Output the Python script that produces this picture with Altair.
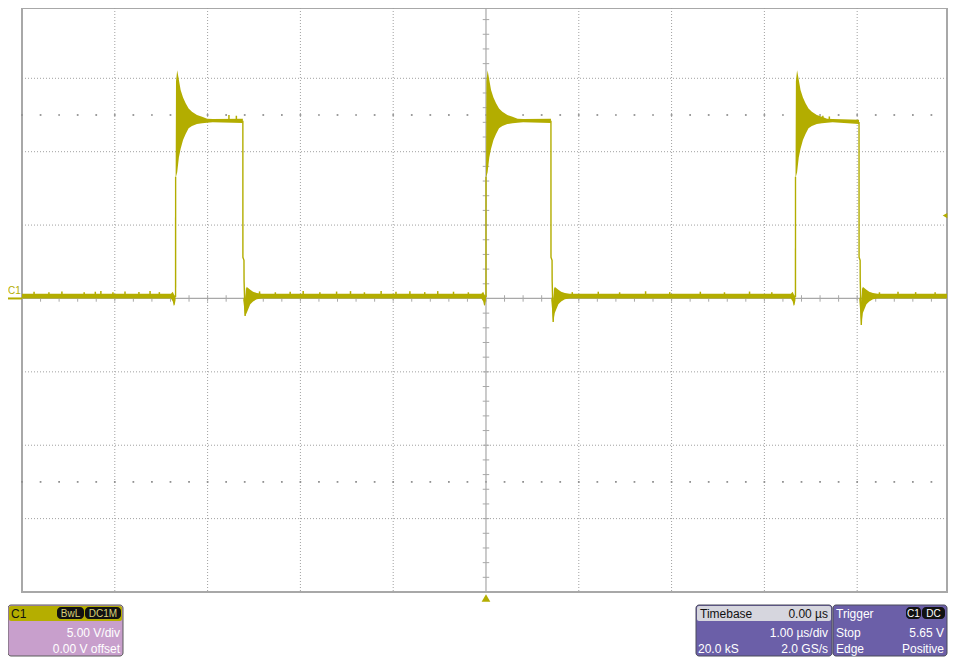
import altair as alt
import pandas as pd

# ---------------- data read from the screen ----------------
# time axis: 1 us/div, centre = 0 us ; volts: 5 V/div, centre = 0 V
rise_t = [-3.345, 0.000, 3.335]          # rising edges (us)
fall_t = [-2.620, 0.700, 4.020]          # falling edges (us)
top_hi = [12.25, 12.25, 12.18]           # flat top envelope (V)
top_lo = [11.95, 11.95, 11.88]
top_v = [12.1, 12.1, 12.03]
under_v = [-1.2, -1.6, -1.8]             # undershoot after fall (V)

# ringing envelope after each rising edge (relative time, us)
ring_dt = [0.000, 0.004, 0.017, 0.035, 0.054, 0.080, 0.108, 0.140, 0.176, 0.230, 0.285, 0.340, 0.400]
ring_hi = [8.3, 14.8, 15.55, 14.9, 14.2, 13.7, 13.3, 12.95, 12.72, 12.5, 12.38, 12.25, 12.22]
ring_lo = [8.3, 8.3, 8.6, 9.6, 10.2, 10.8, 11.2, 11.6, 11.75, 11.88, 11.93, 11.98, 12.0]

# small dip just before each rising edge
pre_dt = [-0.050, -0.030, -0.020, -0.010, 0.000]
pre_hi = [0.32, 0.45, 0.30, 0.20, 0.20]
pre_lo = [0.00, -0.20, -0.50, -0.45, -0.10]

# edge trace after each falling edge
fall_line_dt = [0.0005, 0.012, 0.013, 0.024, 0.040, 0.055, 0.075, 0.100, 0.140]
fall_line_v = [2.8, 2.6, 1.2, None, 0.7, -0.5, 0.4, -0.1, 0.15]
# ringing envelope after each falling edge
fall_env_dt = [0.024, 0.040, 0.060, 0.080, 0.110, 0.150, 0.200]
fall_env_hi = [-0.3, 0.8, 0.7, 0.6, 0.45, 0.38, 0.32]
fall_env_lo = [None, -1.0, -0.7, -0.4, -0.2, -0.05, 0.0]

base_hi, base_lo = 0.32, 0.0
t_start, t_end = -5.0, 4.968             # visible part of the 10 div screen

# noise spikes on the trace
spike_t = [-4.87, -4.71, -4.57, -4.33, -4.21, -4.15, -4.02, -3.89, -3.74, -3.62, -3.52,
           -2.44, -2.27, -2.11, -1.97, -1.79, -1.61, -1.46, -1.31, -1.13, -0.97, -0.82,
           -0.66, -0.52, -0.35, -0.19, 0.93, 1.21, 1.44, 1.72, 1.98, 2.31, 2.57, 2.84,
           3.08, 4.24, 4.44, 4.63, 4.84, -2.77, -2.69, 3.57, 3.63, 3.70]
spike_lo = [0.3] * 39 + [12.2, 12.2, 12.1, 12.1, 12.1]
spike_hi = [0.45, 0.42, 0.48, 0.43, 0.46, 0.5, 0.42, 0.47, 0.44, 0.5, 0.43,
            0.48, 0.42, 0.46, 0.5, 0.43, 0.47, 0.5, 0.42, 0.5, 0.46, 0.49,
            0.43, 0.5, 0.46, 0.42, 0.43, 0.46, 0.42, 0.49, 0.43, 0.46, 0.42, 0.47,
            0.43, 0.42, 0.46, 0.43, 0.42, 12.5, 12.45, 12.4, 12.45, 12.4]

grid_t = [-4, -3, -2, -1, 1, 2, 3, 4]
grid_v = [-15, -10, -5, 5, 10, 15]
dot_rows_v = [12.5, -12.5]
trig_level = 5.65

# ---------------- build tables ----------------
env = [(t_start, base_hi, base_lo)]
edges = []
for i in range(3):
    r, f = rise_t[i], fall_t[i]
    for d, h, l in zip(pre_dt, pre_hi, pre_lo):
        env.append((r + d, h, l))
    for d, h, l in zip(ring_dt, ring_hi, ring_lo):
        env.append((r + 0.0005 + d, h, l))
    env.append((f, top_hi[i], top_lo[i]))
    env.append((f + 0.0004, 0.1, 0.1))
    for d, h, l in zip(fall_env_dt, fall_env_hi, fall_env_lo):
        env.append((f + d, h, under_v[i] if l is None else l))
    edges.append((f"r{i}", 0, r, 0.1))
    edges.append((f"r{i}", 1, r + 0.0005, 8.3))
    edges.append((f"f{i}", 0, f, top_v[i]))
    for k, (d, v) in enumerate(zip(fall_line_dt, fall_line_v)):
        edges.append((f"f{i}", k + 1, f + d, under_v[i] if v is None else v))
env.append((t_end, base_hi, base_lo))

env_df = pd.DataFrame(env, columns=["t", "hi", "lo"])
edge_df = pd.DataFrame(edges, columns=["seg", "k", "t", "v"])
spike_df = pd.DataFrame({"t": spike_t, "lo": spike_lo, "hi": spike_hi})

minor_t = [round(-5 + 0.2 * k, 2) for k in range(50)]
minor_v = [float(v) for v in range(-20, 20)]
tick_x_df = pd.DataFrame({"t": minor_t})
tick_y_df = pd.DataFrame({"v": minor_v})
dots_df = pd.DataFrame([(t, v) for v in dot_rows_v for t in minor_t], columns=["t", "v"])

# ---------------- styling ----------------
TRACE = "#b3ad00"
GRID = "#a0a0a0"
AXIS = "#a8a8a8"
FONT = "Liberation Sans"
W, H = 925, 584
XS = alt.Scale(domain=[t_start, t_end], nice=False, zero=False)
YS = alt.Scale(domain=[-20, 19.79], nice=False, zero=False)


def X(f="t"):
    return alt.X(f"{f}:Q", scale=XS, axis=None)


def Y(f="v"):
    return alt.Y(f"{f}:Q", scale=YS, axis=None)


one = alt.Data(values=[{"a": 1}])

layers = []
# dotted grid
layers.append(alt.Chart(pd.DataFrame({"t": grid_t})).mark_rule(
    color=GRID, strokeDash=[1, 2], strokeWidth=1).encode(x=X()))
layers.append(alt.Chart(pd.DataFrame({"v": grid_v})).mark_rule(
    color=GRID, strokeDash=[1, 2], strokeWidth=1).encode(y=Y()))
# dot rows
layers.append(alt.Chart(dots_df).mark_square(size=3, color="#8c8c8c", opacity=1).encode(x=X(), y=Y()))
# centre cross with minor ticks
layers.append(alt.Chart(pd.DataFrame({"t": [0.0]})).mark_rule(color=AXIS, strokeWidth=1.2).encode(x=X()))
layers.append(alt.Chart(pd.DataFrame({"v": [0.0]})).mark_rule(color=AXIS, strokeWidth=1.2).encode(y=Y()))
layers.append(alt.Chart(tick_x_df).transform_calculate(a="-0.22", b="0.22").mark_rule(
    color=AXIS, strokeWidth=1).encode(x=X(), y=Y("a"), y2="b:Q"))
layers.append(alt.Chart(tick_y_df).transform_calculate(a="-0.035", b="0.035").mark_rule(
    color=AXIS, strokeWidth=1).encode(y=Y(), x=X("a"), x2="b:Q"))
# waveform envelope
layers.append(alt.Chart(env_df).mark_area(color=TRACE, opacity=1, interpolate="linear").encode(
    x=X(), y=Y("hi"), y2="lo:Q"))
# edges
layers.append(alt.Chart(edge_df).mark_line(color=TRACE, strokeWidth=1.4).encode(
    x=X(), y=Y(), detail="seg:N", order="k:Q"))
# spikes
layers.append(alt.Chart(spike_df).mark_rule(color=TRACE, strokeWidth=1.5).encode(
    x=X(), y=Y("lo"), y2="hi:Q"))
# channel marker on the left
layers.append(alt.Chart(pd.DataFrame({"v": [0.0]})).mark_rule(color=TRACE, strokeWidth=2).encode(
    x=alt.value(-14), x2=alt.value(0), y=Y()))
layers.append(alt.Chart(one).mark_text(text="C1", align="left", baseline="alphabetic", fontSize=10,
                                       font=FONT, color=TRACE).encode(x=alt.value(-14), y=alt.value(286)))
# trigger markers
layers.append(alt.Chart(pd.DataFrame({"t": [0.0]})).mark_point(
    shape="triangle-up", filled=True, size=75, color=TRACE, opacity=1).encode(x=X(), y=alt.value(590)))
layers.append(alt.Chart(pd.DataFrame({"v": [trig_level]})).mark_point(
    shape="triangle-left", filled=True, size=28, color=TRACE, opacity=1).encode(x=alt.value(923), y=Y()))


def box(x1, y1, x2, y2, fill, r=3, stroke=None):
    kw = dict(fill=fill, cornerRadius=r)
    if stroke:
        kw.update(stroke=stroke, strokeWidth=1)
    return alt.Chart(one).mark_rect(**kw).encode(
        x=alt.value(x1), x2=alt.value(x2), y=alt.value(y1), y2=alt.value(y2))


def txt(x, y, s, color, align="left", size=12):
    return alt.Chart(one).mark_text(text=s, align=align, baseline="alphabetic", fontSize=size,
                                    font=FONT, color=color).encode(x=alt.value(x), y=alt.value(y))


LILAC = "#c89fcc"
OLIVE = "#b5ae00"
PURPLE = "#6b5fa8"
LGRAY = "#d6d6de"
WHITE = "#ffffff"

# C1 panel
layers += [
    box(-14, 597, 101, 648, LILAC, 3, "#5a5a5a"),
    box(-13, 598, 100, 613, OLIVE, 2),
    txt(-11, 610, "C1", "#111111"),
    box(35, 599, 62, 611, "#111111", 4),
    txt(48.5, 609, "BwL", "#d9d27a", "center", 10),
    box(63, 599, 99, 611, "#111111", 4),
    txt(81, 609, "DC1M", "#d9d27a", "center", 10),
    txt(98, 629, "5.00 V/div", WHITE, "right"),
    txt(98, 645, "0.00 V offset", WHITE, "right"),
]
# Timebase panel
layers += [
    box(674, 597, 810, 648, PURPLE, 3, "#4a4a5a"),
    box(675, 598, 809, 613, LGRAY, 2),
    txt(678, 610, "Timebase", "#111111"),
    txt(806, 610, "0.00 µs", "#111111", "right"),
    txt(806, 629, "1.00 µs/div", WHITE, "right"),
    txt(676, 645, "20.0 kS", WHITE),
    txt(806, 645, "2.0 GS/s", WHITE, "right"),
]
# Trigger panel
layers += [
    box(811, 597, 925, 648, PURPLE, 3, "#4a4a5a"),
    txt(814, 610, "Trigger", WHITE),
    box(884, 599, 899, 611, "#111111", 4),
    txt(891.5, 609, "C1", WHITE, "center", 10),
    box(900, 599, 923, 611, "#111111", 4),
    txt(911.5, 609, "DC", WHITE, "center", 10),
    txt(814, 629, "Stop", WHITE),
    txt(922, 629, "5.65 V", WHITE, "right"),
    txt(814, 645, "Edge", WHITE),
    txt(922, 645, "Positive", WHITE, "right"),
]

chart = alt.layer(*layers).properties(
    width=W, height=H,
    padding={"left": 14, "top": 0, "right": 1, "bottom": 65},
    autosize="none",
    background="white",
).configure_view(stroke="#a8a8a8", strokeWidth=2)

chart.save("out.html", embed_options={"renderer": "svg", "actions": False})
